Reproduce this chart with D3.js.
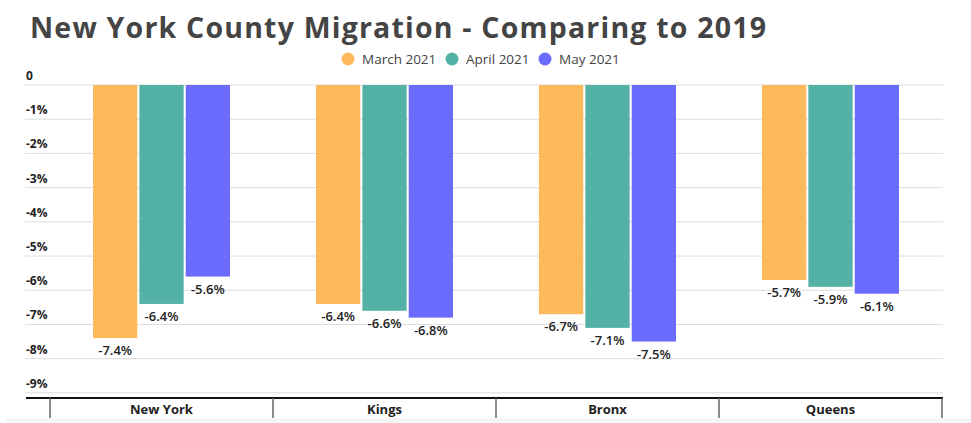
<!DOCTYPE html>
<html>
<head>
<meta charset="utf-8">
<script src="https://cdn.jsdelivr.net/npm/d3@7"></script>
<style>
  body { margin: 0; background: #fff; }
  svg { display: block; font-family: "Open Sans", sans-serif; }
</style>
</head>
<body>
<svg id="chart"></svg>
<script>
const counties = ['New York', 'Kings', 'Bronx', 'Queens'];
const seriesNames = ['March 2021', 'April 2021', 'May 2021'];
const march2021 = [-7.4, -6.4, -6.7, -5.7];
const april2021 = [-6.4, -6.6, -7.1, -5.9];
const may2021 = [-5.6, -6.8, -7.5, -6.1];
const yTicks = [0, -1, -2, -3, -4, -5, -6, -7, -8, -9];

const seriesValues = [march2021, april2021, may2021];
const colors = ['#FDBA5D', '#53B1A5', '#6B6BFE'];

const width = 971, height = 423;
const svg = d3.select('#chart')
  .attr('width', width)
  .attr('height', height);

// title
svg.append('text')
  .attr('x', 30)
  .attr('y', 38)
  .attr('font-size', 28.5)
  .attr('font-weight', 700)
  .attr('fill', '#444')
  .attr('textLength', 736)
  .attr('lengthAdjust', 'spacing')
  .text('New York County Migration - Comparing to 2019');

// legend
const legendX = [348, 452, 545];
const legend = svg.append('g');
seriesNames.forEach((name, i) => {
  legend.append('circle')
    .attr('cx', legendX[i])
    .attr('cy', 59)
    .attr('r', 6.5)
    .attr('fill', colors[i]);
  legend.append('text')
    .attr('x', legendX[i] + 14)
    .attr('y', 64)
    .attr('font-size', 13.5)
    .attr('fill', '#444')
    .text(name);
});

// scales
const y = d3.scaleLinear()
  .domain([0, -9.15])
  .range([85, 398]);

const x0 = d3.scaleBand()
  .domain(counties)
  .range([50, 942]);

const groupW = 137;
const x1 = d3.scaleBand()
  .domain(d3.range(seriesNames.length))
  .range([0, groupW])
  .paddingInner(0.045);

// gridlines + y labels
const grid = svg.append('g');
yTicks.forEach(t => {
  grid.append('line')
    .attr('x1', 25).attr('x2', 943)
    .attr('y1', y(t)).attr('y2', y(t))
    .attr('stroke', '#dcdcdc')
    .attr('stroke-width', 1);
  grid.append('text')
    .attr('x', 26)
    .attr('y', y(t) - 5)
    .attr('font-size', 12)
    .attr('font-weight', 700)
    .attr('fill', '#222')
    .text(t === 0 ? '0' : t + '%');
});

// bars
const bars = svg.append('g');
counties.forEach((c, ci) => {
  const gx = x0(c) + (x0.bandwidth() - groupW) / 2;
  seriesValues.forEach((vals, si) => {
    const v = vals[ci];
    bars.append('rect')
      .attr('x', gx + x1(si))
      .attr('y', y(0))
      .attr('width', x1.bandwidth())
      .attr('height', y(v) - y(0))
      .attr('fill', colors[si]);
    bars.append('text')
      .attr('x', gx + x1(si) + x1.bandwidth() / 2)
      .attr('y', y(v) + 17)
      .attr('text-anchor', 'middle')
      .attr('font-size', 13)
      .attr('font-weight', 600)
      .attr('fill', '#222')
      .text(v.toFixed(1) + '%');
  });
});

// bottom band
svg.append('rect')
  .attr('x', 6).attr('y', 418)
  .attr('width', width - 6).attr('height', height - 418)
  .attr('fill', '#f5f5f5');

// category axis
const xAxis = svg.append('g');
xAxis.append('line')
  .attr('x1', 26).attr('x2', 943)
  .attr('y1', y(-9.15)).attr('y2', y(-9.15))
  .attr('stroke', '#111')
  .attr('stroke-width', 2);
x0.domain().concat([null]).forEach((c, i) => {
  const xx = c === null ? x0.range()[1] : x0(c);
  xAxis.append('line')
    .attr('x1', xx).attr('x2', xx)
    .attr('y1', y(-9.15)).attr('y2', 418)
    .attr('stroke', '#666')
    .attr('stroke-width', 1.5);
});
counties.forEach(c => {
  xAxis.append('text')
    .attr('x', x0(c) + x0.bandwidth() / 2)
    .attr('y', 414)
    .attr('text-anchor', 'middle')
    .attr('font-size', 13)
    .attr('font-weight', 700)
    .attr('fill', '#222')
    .text(c);
});
</script>
</body>
</html>
